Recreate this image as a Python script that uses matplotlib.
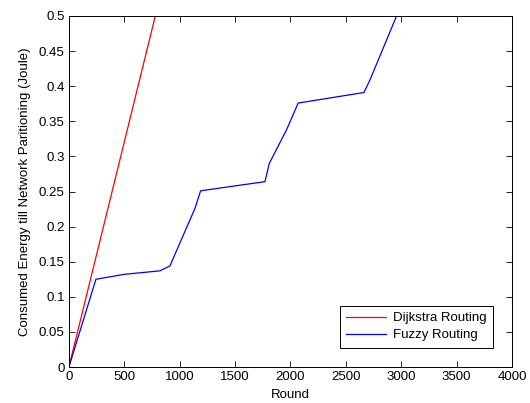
import matplotlib.pyplot as plt

plt.rcParams['font.family'] = ['Liberation Sans', 'DejaVu Sans']

dijkstra_round = [0, 780]
dijkstra_energy = [0.0, 0.5]

fuzzy_round = [0, 244, 500, 822, 912, 1138, 1189, 1500, 1770, 1809, 1965,
               2070, 2664, 2718, 2958, 3000]
fuzzy_energy = [0.0, 0.125, 0.132, 0.137, 0.144, 0.226, 0.251, 0.258, 0.264,
                0.290, 0.338, 0.376, 0.391, 0.409, 0.500, 0.507]

x_ticks = [0, 500, 1000, 1500, 2000, 2500, 3000, 3500, 4000]
y_ticks = [0, 0.05, 0.1, 0.15, 0.2, 0.25, 0.3, 0.35, 0.4, 0.45, 0.5]
y_tick_labels = ['0', '0.05', '0.1', '0.15', '0.2', '0.25', '0.3', '0.35',
                 '0.4', '0.45', '0.5']

fs = 9.5

fig = plt.figure(figsize=(5.3, 4.03), dpi=100)
ax = fig.add_axes([0.130, 0.0893, 0.836, 0.871])

ax.plot(dijkstra_round, dijkstra_energy, color='red', lw=0.9,
        label='Dijkstra Routing')
ax.plot(fuzzy_round, fuzzy_energy, color='blue', lw=0.9,
        label='Fuzzy Routing')

ax.set_xlim(0, 4000)
ax.set_ylim(0, 0.5)
ax.set_xticks(x_ticks)
ax.set_yticks(y_ticks)
ax.set_yticklabels(y_tick_labels)
ax.tick_params(direction='in', top=True, right=True, length=4, width=0.6,
               labelsize=fs, pad=3)
for s in ax.spines.values():
    s.set_linewidth(0.7)

ax.set_xlabel('Round', fontsize=fs, labelpad=4)
ax.set_ylabel('Consumed Energy till Network Paritioning (Joule)',
              fontsize=fs, labelpad=6)

leg = ax.legend(loc='lower right', fontsize=fs, fancybox=False,
                framealpha=1, edgecolor='black', handlelength=3.0,
                borderaxespad=1.45, borderpad=0.5, labelspacing=0.35,
                handletextpad=0.5)
leg.get_frame().set_linewidth(0.7)

fig.savefig('out.png', dpi=100)
